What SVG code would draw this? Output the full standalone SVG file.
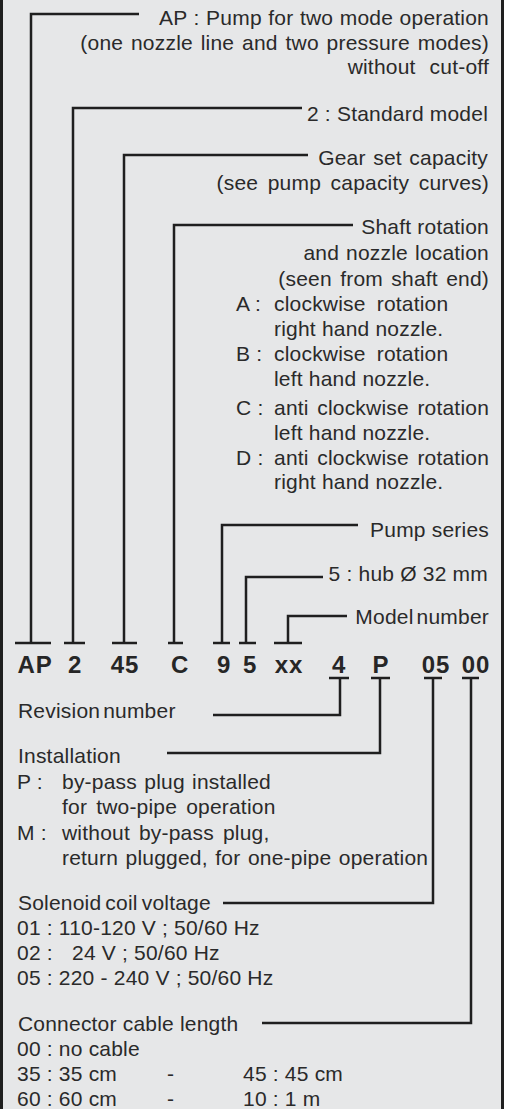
<svg xmlns="http://www.w3.org/2000/svg" width="505" height="1109" viewBox="0 0 505 1109">
<style>
.t{font-family:"Liberation Sans",Arial,sans-serif;font-size:21px;fill:#2a2a2a;letter-spacing:0.2px}
.r{text-anchor:end}
.b{font-family:"Liberation Sans",Arial,sans-serif;font-size:24px;font-weight:bold;fill:#262626;text-anchor:middle;letter-spacing:0.8px}
.c{fill:none;stroke:#1f1f1f;stroke-width:2.5}
</style>
<rect x="1.5" y="-10" width="501" height="1130" fill="#e6e7e8" stroke="#1f1f1f" stroke-width="3"/>
<g id="connectors" class="c">
<polyline points="139,14 31,14 31,643"/><line x1="15" y1="643" x2="51" y2="643"/>
<polyline points="302,108 73,108 73,643"/><line x1="64" y1="643" x2="85" y2="643"/>
<polyline points="308,155 124,155 124,643"/><line x1="112" y1="643" x2="137" y2="643"/>
<polyline points="353,225 174,225 174,643"/><line x1="168" y1="643" x2="183" y2="643"/>
<polyline points="358,525 222,525 222,643"/><line x1="213" y1="643" x2="230" y2="643"/>
<polyline points="323,577 246,577 246,643"/><line x1="239" y1="643" x2="256" y2="643"/>
<polyline points="347,616 288,616 288,643"/><line x1="274" y1="643" x2="302" y2="643"/>
<line x1="329" y1="678" x2="349" y2="678"/><polyline points="340,678 340,715 213,715"/>
<line x1="371" y1="678" x2="390" y2="678"/><polyline points="380,678 380,753 167,753"/>
<line x1="424" y1="678" x2="442" y2="678"/><polyline points="433,678 433,903 223,903"/>
<line x1="462" y1="678" x2="479" y2="678"/><polyline points="471,678 471,1023 262,1023"/>
</g>
<g id="code">
<text class="b" x="35" y="673">AP</text>
<text class="b" x="75" y="673">2</text>
<text class="b" x="125" y="673">45</text>
<text class="b" x="180" y="673">C</text>
<text class="b" x="224" y="673">9</text>
<text class="b" x="250" y="673">5</text>
<text class="b" x="289" y="673">xx</text>
<text class="b" x="339" y="673">4</text>
<text class="b" x="381" y="673">P</text>
<text class="b" x="436" y="673">05</text>
<text class="b" x="476" y="673">00</text>
</g>
<g id="label-ap">
<text class="t r" x="489" y="25" style="word-spacing:0.5px">AP : Pump for two mode operation</text>
<text class="t r" x="489" y="50" style="word-spacing:1.8px">(one nozzle line and two pressure modes)</text>
<text class="t r" x="489" y="74" style="word-spacing:8px">without cut-off</text>
</g>
<g id="label-2">
<text class="t r" x="488" y="121">2 : Standard model</text>
</g>
<g id="label-45">
<text class="t r" x="488" y="165" style="word-spacing:1.5px">Gear set capacity</text>
<text class="t r" x="489" y="190" style="word-spacing:3.5px">(see pump capacity curves)</text>
</g>
<g id="label-c">
<text class="t r" x="489" y="234">Shaft rotation</text>
<text class="t r" x="489" y="260" style="word-spacing:1px">and nozzle location</text>
<text class="t r" x="489" y="286" style="word-spacing:2.3px">(seen from shaft end)</text>
<text class="t" x="236" y="311">A :</text><text class="t" x="274" y="311" style="word-spacing:5px">clockwise rotation</text>
<text class="t" x="274" y="336">right hand nozzle.</text>
<text class="t" x="236" y="361">B :</text><text class="t" x="274" y="361" style="word-spacing:5px">clockwise rotation</text>
<text class="t" x="274" y="386">left hand nozzle.</text>
<text class="t" x="236" y="415">C :</text><text class="t" x="274" y="415" style="word-spacing:2.5px">anti clockwise rotation</text>
<text class="t" x="274" y="440">left hand nozzle.</text>
<text class="t" x="236" y="465">D :</text><text class="t" x="274" y="465" style="word-spacing:2.5px">anti clockwise rotation</text>
<text class="t" x="274" y="489">right hand nozzle.</text>
</g>
<g id="label-9">
<text class="t r" x="489" y="537">Pump series</text>
</g>
<g id="label-5">
<text class="t r" x="488" y="581">5 : hub Ø 32 mm</text>
</g>
<g id="label-xx">
<text class="t r" x="489" y="624" style="word-spacing:-3px">Model number</text>
</g>
<g id="label-4">
<text class="t" x="18" y="718" style="word-spacing:-3px">Revision number</text>
</g>
<g id="label-p">
<text class="t" x="18" y="763">Installation</text>
<text class="t" x="17" y="789">P :</text><text class="t" x="62" y="789" style="word-spacing:1.3px">by-pass plug installed</text>
<text class="t" x="62" y="814" style="word-spacing:3px">for two-pipe operation</text>
<text class="t" x="17" y="840">M :</text><text class="t" x="62" y="840" style="word-spacing:3px">without by-pass plug,</text>
<text class="t" x="62" y="865" style="word-spacing:1.5px">return plugged, for one-pipe operation</text>
</g>
<g id="label-05">
<text class="t" x="18" y="910" style="word-spacing:-2px">Solenoid coil voltage</text>
<text class="t" x="17" y="935">01 : 110-120 V ; 50/60 Hz</text>
<text class="t" x="17" y="960">02 :</text><text class="t" x="72" y="960">24 V ; 50/60 Hz</text>
<text class="t" x="17" y="985">05 : 220 - 240 V ; 50/60 Hz</text>
</g>
<g id="label-00">
<text class="t" x="18" y="1031">Connector cable length</text>
<text class="t" x="17" y="1056">00 : no cable</text>
<text class="t" x="17" y="1081">35 : 35 cm</text><text class="t" x="167" y="1081">-</text><text class="t" x="243" y="1081">45 : 45 cm</text>
<text class="t" x="17" y="1106">60 : 60 cm</text><text class="t" x="167" y="1106">-</text><text class="t" x="243" y="1106">10 : 1 m</text>
</g>
</svg>
